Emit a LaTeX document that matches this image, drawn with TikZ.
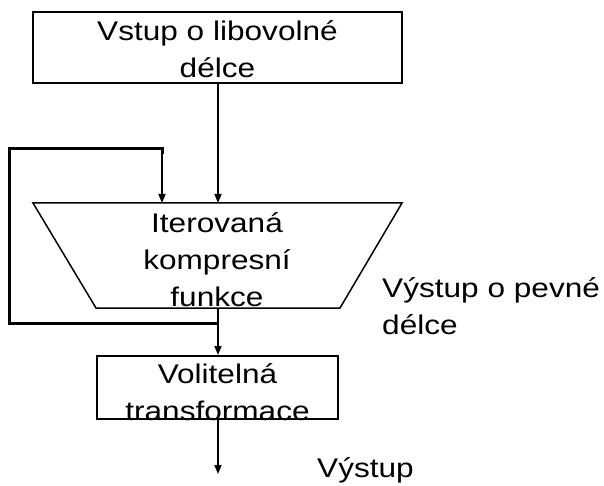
\documentclass[tikz,border=0pt]{standalone}
\usepackage{fontspec}
\setmainfont{Liberation Sans}[FakeStretch=1.17]
\usetikzlibrary{arrows.meta}
\begin{document}
\begin{tikzpicture}[x=1pt,y=-1pt,
  lbl/.style={font=\fontsize{27}{37}\selectfont, inner sep=0pt, align=center},
  boxframe/.style={draw, line width=2pt, inner sep=0pt},
  conn/.style={line width=1.5pt, -{Triangle[length=9pt,width=7pt]}},
  loopline/.style={line width=3pt, line join=miter}]
  \useasboundingbox (0,0) rectangle (604,486);

  % input block
  \node[boxframe, minimum width=369pt, minimum height=71pt] (inbox) at (217.5,47.5) {};
  \node[lbl] (intext) at (217.5,49) {Vstup o libovolné\\délce};

  % compression function (inverted trapezoid)
  \coordinate (tl) at (33,203);
  \coordinate (tr) at (402,203);
  \coordinate (br) at (340,308);
  \coordinate (bl) at (96,308);
  \draw[line width=1.5pt, line join=miter] (tl) -- (tr) -- (br) -- (bl) -- cycle;
  \node[lbl] (comp) at (217,260) {Iterovaná\\kompresní\\funkce};
  \coordinate (compin) at (218,203);
  \coordinate (fbin) at (162,203);
  \coordinate (compout) at (218,308);

  % optional transformation
  \node[boxframe, minimum width=241pt, minimum height=63pt] (trbox) at (217.5,387.5) {};
  \node[lbl] (trtext) at (217.5,392) {Volitelná\\transformace};

  % feedback loop
  \coordinate (junc) at (218,323);
  \coordinate (lb) at (9,323);
  \coordinate (lt) at (9,149);
  \coordinate (rt) at (162,149);

  % connectors
  \draw[conn] (inbox.south -| compin) -- (compin);
  \draw[conn] (compout) -- (trbox.north -| compout);
  \draw[loopline] (junc) -- (lb) -- (lt) -- (rt) -- ([yshift=-5pt]fbin |- rt);
  \draw[conn] (rt) -- (fbin);
  \coordinate (outend) at (218,474);
  \draw[conn] (trbox.south -| outend) -- (outend);

  % output labels
  \node[lbl, align=left, anchor=base west] (fixed) at (382,334) {Výstup o pevné\\délce};
  \node[lbl, anchor=base west] (final) at (317,477) {Výstup};
\end{tikzpicture}
\end{document}
